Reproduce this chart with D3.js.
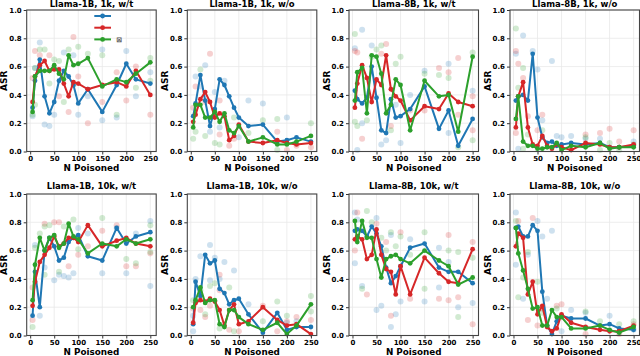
<!DOCTYPE html>
<html>
<head>
<meta charset="utf-8">
<script src="https://cdn.jsdelivr.net/npm/d3@7"></script>
<style>
  body { margin: 0; background: #fff; }
  svg text { font-family: "DejaVu Sans", sans-serif; font-weight: bold; }
</style>
</head>
<body>
<svg id="chart" width="640" height="356"></svg>
<script>
// x positions (number of poisoned samples)
const nPoisoned = [5, 10, 20, 30, 40, 50, 60, 70, 80, 90, 100, 120, 150, 180, 200, 220, 250]
const titles = [
  'Llama-1B, 1k, w/t', 'Llama-1B, 1k, w/o', 'Llama-8B, 1k, w/t', 'Llama-8B, 1k, w/o',
  'Llama-1B, 10k, w/t', 'Llama-1B, 10k, w/o', 'Llama-8B, 10k, w/t', 'Llama-8B, 10k, w/o'
]
const xTicks = [0, 50, 100, 150, 200, 250]
const yTicks = [0, 0.2, 0.4, 0.6, 0.8, 1.0]

// mean ASR per panel
const blueMean = [
  [0.31, 0.50, 0.65, 0.39, 0.27, 0.35, 0.50, 0.57, 0.53, 0.47, 0.34, 0.44, 0.28, 0.47, 0.62, 0.51, 0.48],
  [0.25, 0.34, 0.54, 0.36, 0.18, 0.30, 0.51, 0.47, 0.39, 0.31, 0.24, 0.18, 0.19, 0.07, 0.08, 0.10, 0.07],
  [0.43, 0.37, 0.34, 0.38, 0.60, 0.38, 0.15, 0.13, 0.37, 0.24, 0.25, 0.30, 0.46, 0.16, 0.29, 0.04, 0.23],
  [0.36, 0.39, 0.40, 0.36, 0.69, 0.24, 0.10, 0.06, 0.07, 0.04, 0.05, 0.06, 0.05, 0.06, 0.03, 0.03, 0.04],
  [0.14, 0.45, 0.20, 0.60, 0.69, 0.63, 0.53, 0.55, 0.66, 0.69, 0.71, 0.56, 0.53, 0.76, 0.65, 0.70, 0.73],
  [0.08, 0.38, 0.28, 0.57, 0.51, 0.53, 0.33, 0.30, 0.22, 0.25, 0.26, 0.15, 0.02, 0.16, 0.04, 0.06, 0.06],
  [0.74, 0.75, 0.74, 0.70, 0.77, 0.72, 0.63, 0.48, 0.37, 0.42, 0.49, 0.62, 0.65, 0.48, 0.45, 0.45, 0.37],
  [0.76, 0.77, 0.70, 0.70, 0.78, 0.74, 0.31, 0.07, 0.01, 0.10, 0.14, 0.12, 0.12, 0.07, 0.08, 0.05, 0.04]
]
const redMean = [
  [0.35, 0.53, 0.61, 0.64, 0.57, 0.58, 0.58, 0.48, 0.39, 0.49, 0.48, 0.44, 0.47, 0.49, 0.46, 0.57, 0.40],
  [0.21, 0.26, 0.37, 0.42, 0.35, 0.24, 0.27, 0.25, 0.08, 0.11, 0.19, 0.07, 0.06, 0.08, 0.06, 0.05, 0.06],
  [0.31, 0.48, 0.61, 0.52, 0.35, 0.51, 0.47, 0.68, 0.44, 0.39, 0.36, 0.22, 0.32, 0.30, 0.41, 0.35, 0.32],
  [0.17, 0.39, 0.49, 0.17, 0.05, 0.04, 0.11, 0.04, 0.02, 0.05, 0.03, 0.01, 0.06, 0.05, 0.03, 0.03, 0.05],
  [0.21, 0.38, 0.52, 0.57, 0.62, 0.70, 0.63, 0.65, 0.69, 0.69, 0.66, 0.78, 0.63, 0.67, 0.69, 0.65, 0.63],
  [0.09, 0.23, 0.25, 0.24, 0.26, 0.24, 0.18, 0.07, 0.18, 0.22, 0.08, 0.10, 0.20, 0.11, 0.07, 0.08, 0.01],
  [0.68, 0.70, 0.68, 0.54, 0.57, 0.75, 0.57, 0.47, 0.45, 0.29, 0.49, 0.29, 0.55, 0.44, 0.38, 0.37, 0.61],
  [0.63, 0.72, 0.69, 0.29, 0.38, 0.15, 0.21, 0.06, 0.03, 0.05, 0.15, 0.09, 0.06, 0.04, 0.03, 0.03, 0.07]
]
const greenMean = [
  [0.28, 0.53, 0.57, 0.57, 0.57, 0.61, 0.55, 0.51, 0.68, 0.61, 0.62, 0.66, 0.46, 0.51, 0.49, 0.55, 0.63],
  [0.17, 0.33, 0.33, 0.24, 0.24, 0.28, 0.21, 0.27, 0.15, 0.13, 0.18, 0.07, 0.10, 0.05, 0.05, 0.07, 0.11],
  [0.36, 0.56, 0.59, 0.27, 0.68, 0.67, 0.55, 0.27, 0.33, 0.51, 0.47, 0.15, 0.50, 0.39, 0.40, 0.14, 0.67],
  [0.23, 0.39, 0.07, 0.04, 0.04, 0.02, 0.02, 0.03, 0.03, 0.06, 0.01, 0.04, 0.03, 0.06, 0.02, 0.03, 0.03],
  [0.25, 0.50, 0.69, 0.60, 0.69, 0.71, 0.62, 0.65, 0.79, 0.70, 0.68, 0.58, 0.65, 0.63, 0.68, 0.65, 0.68],
  [0.20, 0.25, 0.34, 0.23, 0.25, 0.25, 0.08, 0.06, 0.18, 0.18, 0.13, 0.08, 0.04, 0.09, 0.01, 0.07, 0.22],
  [0.81, 0.66, 0.81, 0.69, 0.69, 0.54, 0.41, 0.54, 0.56, 0.57, 0.54, 0.51, 0.60, 0.53, 0.49, 0.36, 0.41],
  [0.76, 0.58, 0.46, 0.33, 0.19, 0.20, 0.07, 0.07, 0.18, 0.13, 0.13, 0.05, 0.05, 0.07, 0.04, 0.02, 0.06]
]

// individual runs (faint dots), [x, y]
const blueRuns = [
  [[5,0.25],[10,0.59],[20,0.77],[30,0.19],[40,0.18],[50,0.26],[70,0.70],[90,0.68],[100,0.26],[120,0.39],[150,0.72],[150,0.22],[180,0.24],[200,0.71],[220,0.39],[250,0.56]],
  [[10,0.53],[20,0.46],[30,0.61],[40,0.14],[50,0.42],[60,0.17],[70,0.50],[100,0.10],[120,0.36],[150,0.34],[200,0.24]],
  [[5,0.73],[10,0.01],[20,0.86],[20,0.20],[40,0.75],[60,0.05],[70,0.08],[90,0.33],[100,0.06],[120,0.40],[150,0.57],[200,0.62],[200,0.13],[250,0.43]],
  [[5,0.69],[10,0.02],[20,0.82],[40,0.71],[50,0.58],[60,0.22],[80,0.64],[90,0.11],[100,0.10],[120,0.11],[150,0.09],[180,0.09],[250,0.07]],
  [[10,0.64],[20,0.14],[30,0.48],[50,0.39],[60,0.43],[70,0.42],[80,0.41],[90,0.44],[100,0.76],[120,0.72],[150,0.44],[180,0.76],[200,0.44],[220,0.72],[250,0.81],[250,0.35]],
  [[5,0.03],[5,0.14],[10,0.40],[20,0.56],[40,0.64],[40,0.39],[50,0.55],[60,0.40],[70,0.52],[90,0.46],[120,0.22],[200,0.09],[220,0.10]],
  [[5,0.87],[5,0.51],[10,0.82],[20,0.35],[50,0.83],[50,0.18],[60,0.21],[80,0.71],[80,0.06],[90,0.15],[100,0.24],[120,0.68],[150,0.24],[180,0.62],[180,0.34],[200,0.52],[220,0.20],[250,0.23]],
  [[5,0.87],[5,0.50],[20,0.26],[30,0.57],[50,0.81],[60,0.70],[70,0.26],[80,0.74],[100,0.03],[120,0.18],[150,0.16],[200,0.14],[250,0.04]]
]
const redRuns = [
  [[5,0.52],[10,0.71],[20,0.68],[40,0.68],[60,0.39],[80,0.28],[90,0.81],[100,0.53],[120,0.20],[150,0.35],[180,0.56],[200,0.36],[220,0.60],[250,0.26]],
  [[5,0.31],[10,0.46],[30,0.35],[40,0.69],[60,0.36],[60,0.12],[80,0.04],[90,0.09],[180,0.14],[200,0.01],[220,0.04],[250,0.03]],
  [[5,0.71],[10,0.70],[20,0.09],[60,0.69],[70,0.76],[80,0.18],[120,0.29],[150,0.29],[180,0.59],[200,0.56],[220,0.66],[220,0.26],[250,0.39],[250,0.15]],
  [[5,0.71],[5,0.13],[10,0.62],[20,0.52],[30,0.25],[50,0.15],[60,0.26],[150,0.12],[180,0.13],[200,0.16],[220,0.07],[250,0.15]],
  [[5,0.34],[5,0.11],[30,0.79],[50,0.80],[60,0.80],[80,0.49],[100,0.57],[120,0.63],[150,0.74],[180,0.78],[200,0.49],[220,0.49],[250,0.58]],
  [[5,0.19],[20,0.18],[30,0.13],[40,0.21],[60,0.43],[60,0.32],[80,0.04],[100,0.03],[150,0.21],[180,0.03],[200,0.10],[220,0.13],[250,0.11]],
  [[5,0.60],[10,0.87],[30,0.29],[50,0.79],[70,0.66],[80,0.14],[100,0.73],[120,0.26],[180,0.26],[200,0.71],[200,0.25],[220,0.27],[250,0.66],[250,0.08]],
  [[10,0.81],[30,0.11],[40,0.83],[50,0.07],[60,0.19],[90,0.21],[100,0.22],[150,0.01],[220,0.01],[250,0.08]]
]
const greenRuns = [
  [[5,0.26],[10,0.59],[10,0.33],[20,0.72],[30,0.72],[40,0.48],[50,0.65],[60,0.64],[70,0.35],[80,0.72],[90,0.47],[100,0.74],[120,0.69],[150,0.68],[180,0.26],[220,0.45],[250,0.66],[250,0.50]],
  [[5,0.09],[10,0.14],[20,0.58],[30,0.11],[50,0.06],[60,0.05],[90,0.24],[120,0.13],[150,0.22],[180,0.23],[180,0.01],[250,0.20]],
  [[5,0.83],[5,0.21],[10,0.18],[30,0.22],[40,0.67],[50,0.72],[60,0.75],[80,0.15],[90,0.62],[100,0.67],[150,0.55],[180,0.54],[200,0.52],[220,0.03],[250,0.70],[250,0.08]],
  [[5,0.87],[10,0.45],[20,0.59],[20,0.02],[30,0.12],[60,0.15],[150,0.10],[180,0.01],[200,0.06],[220,0.01],[250,0.05]],
  [[5,0.06],[10,0.62],[20,0.72],[30,0.77],[30,0.43],[40,0.78],[60,0.45],[70,0.77],[90,0.82],[100,0.61],[150,0.83],[200,0.54],[220,0.51],[250,0.78],[250,0.59]],
  [[5,0.25],[20,0.32],[30,0.15],[40,0.35],[50,0.37],[60,0.05],[80,0.34],[90,0.03],[150,0.10],[180,0.24],[200,0.14],[250,0.28],[250,0.17]],
  [[20,0.33],[30,0.88],[40,0.80],[60,0.69],[70,0.60],[80,0.73],[90,0.63],[100,0.70],[120,0.57],[150,0.73],[150,0.33],[200,0.60],[220,0.59],[220,0.13],[250,0.55]],
  [[5,0.81],[10,0.27],[20,0.41],[30,0.59],[50,0.38],[60,0.16],[90,0.19],[150,0.17],[180,0.10],[220,0.08],[250,0.10]]
]

const colors = ['#1f77b4', '#d62728', '#2ca02c']
const means = [blueMean, redMean, greenMean]
const runs = [blueRuns, redRuns, greenRuns]

const svg = d3.select('#chart')
const colLeft = [26.7, 187.3, 349, 510]
const rowTop = [10, 194]
const pw = 129.5, ph = 141.5

titles.forEach((title, i) => {
  const r = Math.floor(i / 4), c = i % 4
  const g = svg.append('g')
      .attr('transform', `translate(${colLeft[c]}, ${rowTop[r]})`)

  const x = d3.scaleLinear().domain([-7.25, 262.25]).range([0, pw])
  const y = d3.scaleLinear().domain([0, 1]).range([ph, 0])

  // grid
  g.append('g').selectAll('line').data(xTicks).enter().append('line')
      .attr('x1', d => x(d)).attr('x2', d => x(d)).attr('y1', 0).attr('y2', ph)
      .attr('stroke', '#e8e8e8').attr('stroke-width', 0.8)
  g.append('g').selectAll('line').data(yTicks).enter().append('line')
      .attr('y1', d => y(d)).attr('y2', d => y(d)).attr('x1', 0).attr('x2', pw)
      .attr('stroke', '#e8e8e8').attr('stroke-width', 0.8)

  // faint runs
  runs.forEach((set, s) => {
    g.append('g').selectAll('circle').data(set[i]).enter().append('circle')
        .attr('cx', d => x(d[0])).attr('cy', d => y(d[1])).attr('r', 3)
        .attr('fill', colors[s]).attr('opacity', 0.22)
  })

  // mean lines
  const line = d3.line().x((d, k) => x(nPoisoned[k])).y(d => y(d))
  means.forEach((set, s) => {
    g.append('path').datum(set[i])
        .attr('d', line).attr('fill', 'none')
        .attr('stroke', colors[s]).attr('stroke-width', 2)
        .attr('stroke-linejoin', 'round')
    g.append('g').selectAll('circle').data(set[i]).enter().append('circle')
        .attr('cx', (d, k) => x(nPoisoned[k])).attr('cy', d => y(d)).attr('r', 2.4)
        .attr('fill', colors[s])
  })

  // axes
  const xAxis = g.append('g').attr('transform', `translate(0, ${ph})`)
      .call(d3.axisBottom(x).tickValues(xTicks).tickSize(3).tickPadding(1.5))
  const yAxis = g.append('g')
      .call(d3.axisLeft(y).tickValues(yTicks).tickFormat(d3.format('.1f')).tickSize(3).tickPadding(2))
  ;[xAxis, yAxis].forEach(a => {
    a.select('.domain').remove()
    a.selectAll('line').attr('stroke', '#333')
    a.selectAll('text').attr('font-size', 7).attr('font-weight', 'bold')
        .attr('font-family', '"DejaVu Sans", sans-serif').attr('fill', '#000')
  })

  g.append('rect').attr('width', pw).attr('height', ph)
      .attr('fill', 'none').attr('stroke', '#444').attr('stroke-width', 1.1)

  g.append('text').attr('x', pw / 2).attr('y', r === 0 ? -3 : -5).attr('text-anchor', 'middle')
      .attr('font-size', 8.5).text(title)
  g.append('text').attr('x', pw / 2).attr('y', ph + 19.5).attr('text-anchor', 'middle')
      .attr('font-size', 8.8).text('N Poisoned')
  g.append('text').attr('transform', `translate(-19.5, ${ph / 2}) rotate(-90)`)
      .attr('text-anchor', 'middle').attr('font-size', 9).text('ASR')

  // legend (labels render as a missing glyph in the original)
  if (i === 0) {
    const lg = g.append('g').attr('transform', 'translate(67.6, 6)')
    colors.forEach((col, s) => {
      lg.append('line').attr('x1', 0).attr('x2', 16.7)
          .attr('y1', s * 11.7).attr('y2', s * 11.7)
          .attr('stroke', col).attr('stroke-width', 2)
      lg.append('circle').attr('cx', 8.3).attr('cy', s * 11.7).attr('r', 2.4).attr('fill', col)
    })
    lg.append('text').attr('x', 22).attr('y', 2 * 11.7 + 3).attr('font-size', 7)
        .attr('font-weight', 'normal').attr('fill', '#555').text('⊠')
  }
})
</script>
</body>
</html>
